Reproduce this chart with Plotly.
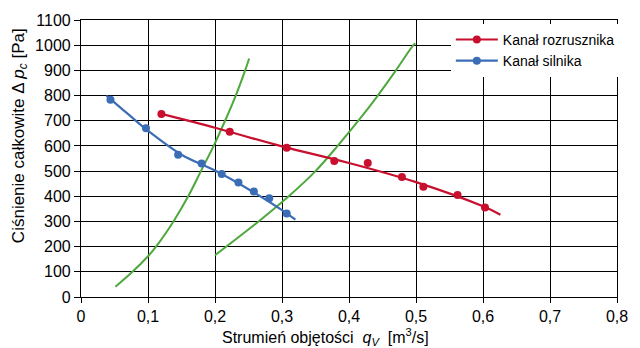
import plotly.graph_objects as go

# Measured operating points
starter_x = [0.120, 0.222, 0.307, 0.378, 0.428, 0.479, 0.511, 0.562, 0.603]
starter_y = [727, 656, 593, 540, 532, 477, 438, 405, 355]
engine_x = [0.044, 0.097, 0.145, 0.180, 0.210, 0.235, 0.258, 0.281, 0.307]
engine_y = [783, 670, 565, 530, 488, 455, 419, 392, 332]

# Fitted characteristic curves through the measurements
starter_fit_x = [0.120, 0.200, 0.300, 0.400, 0.500, 0.600, 0.626]
starter_fit_y = [727, 672, 598, 532, 456, 360, 327]
engine_fit_x = [0.038, 0.070, 0.100, 0.150, 0.200, 0.250, 0.300, 0.320]
engine_fit_y = [800, 727, 660, 565, 502, 428, 345, 307]

# System resistance curves
system1_x = [0.0514, 0.0768, 0.100, 0.112, 0.138, 0.160, 0.179, 0.198, 0.215, 0.231, 0.245, 0.251]
system1_y = [41, 100, 162, 200, 300, 400, 500, 600, 700, 800, 900, 947]
system2_x = [0.200, 0.265, 0.310, 0.350, 0.383, 0.414, 0.443, 0.470, 0.496, 0.499]
system2_y = [166, 300, 400, 500, 600, 700, 800, 900, 1000, 1007]

x_ticks = [0, 0.1, 0.2, 0.3, 0.4, 0.5, 0.6, 0.7, 0.8]
x_tick_labels = ["0", "0,1", "0,2", "0,3", "0,4", "0,5", "0,6", "0,7", "0,8"]
y_ticks = list(range(0, 1101, 100))

RED = "#c8102e"
BLUE = "#3b6db6"
GREEN = "#4ea83c"
FONT = "Liberation Sans, Arial, Helvetica, sans-serif"

fig = go.Figure()

for xs, ys in [(system1_x, system1_y), (system2_x, system2_y)]:
    fig.add_trace(go.Scatter(x=xs, y=ys, mode="lines", showlegend=False,
                             line=dict(color=GREEN, width=2, shape="spline"),
                             hoverinfo="skip"))

series = [
    ("Kanał rozrusznika", RED, starter_fit_x, starter_fit_y, starter_x, starter_y),
    ("Kanał silnika", BLUE, engine_fit_x, engine_fit_y, engine_x, engine_y),
]
for name, color, fx, fy, px, py in series:
    fig.add_trace(go.Scatter(x=fx, y=fy, mode="lines", showlegend=False,
                             line=dict(color=color, width=2.2, shape="spline")))
    fig.add_trace(go.Scatter(x=px, y=py, mode="markers", showlegend=False,
                             marker=dict(color=color, size=8)))
    # legend entry: line with a marker
    fig.add_trace(go.Scatter(x=[None], y=[None], mode="lines+markers", name=name,
                             line=dict(color=color, width=2.2),
                             marker=dict(color=color, size=8)))

fig.update_layout(
    width=640, height=348,
    margin=dict(l=81, r=14, t=18, b=51),
    paper_bgcolor="white", plot_bgcolor="white",
    font=dict(family=FONT, size=16, color="black"),
    showlegend=True,
    legend=dict(x=0.69, y=0.986, xanchor="left", yanchor="top",
                bgcolor="white", borderwidth=0, itemwidth=42,
                font=dict(family=FONT, size=14, color="black"),
                tracegroupgap=0),
    xaxis=dict(range=[0, 0.8], tickvals=x_ticks, ticktext=x_tick_labels,
               showgrid=True, gridcolor="black", gridwidth=1.2,
               zeroline=False, showline=True, linecolor="black", linewidth=1.2,
               mirror=True, ticks="outside", ticklen=5, tickcolor="black",
               tickfont=dict(size=16)),
    yaxis=dict(range=[0, 1100], tickvals=y_ticks,
               showgrid=True, gridcolor="black", gridwidth=1.2,
               zeroline=False, showline=True, linecolor="black", linewidth=1.2,
               mirror=True, ticks="outside", ticklen=6, tickcolor="black",
               tickfont=dict(size=16)),
    annotations=[
        dict(text="Strumień objętości  <i>q</i><sub><i>V</i></sub>  [m<sup>3</sup>/s]",
             xref="paper", yref="paper", x=0.457, y=-0.143,
             xanchor="center", yanchor="middle", showarrow=False,
             font=dict(family=FONT, size=16)),
        dict(text="Ciśnienie całkowite Δ <i>p</i><sub><i>c</i></sub> [Pa]",
             xref="paper", yref="paper", x=-0.114, y=0.584, textangle=-90,
             xanchor="center", yanchor="middle", showarrow=False,
             font=dict(family=FONT, size=17)),
    ],
)

fig.write_html("out.html")
